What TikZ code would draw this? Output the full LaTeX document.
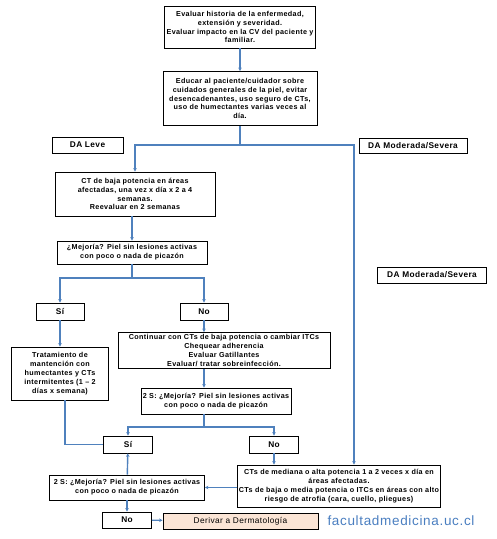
\documentclass[tikz,border=0pt]{standalone}
\usepackage{fontspec}
\setmainfont{Liberation Sans}
\newfontfamily\boxfont{Liberation Sans}[LetterSpace=5]
\usetikzlibrary{arrows.meta}
\definecolor{linkblue}{HTML}{4F81BD}
\definecolor{peach}{HTML}{FBE5D6}
\definecolor{webblue}{HTML}{4A7EC0}

\begin{document}
\begin{tikzpicture}[
    x=1pt,y=-1pt,
    box/.style={draw,thick,fill=white,align=center,inner sep=1pt,
      font=\fontsize{7.2}{8.9}\boxfont\bfseries},
    tag/.style={box,font=\fontsize{8.3}{10}\boxfont\bfseries},
    link/.style={draw=linkblue,line width=1.4pt},
    arrow/.style={link,->,>={Stealth[length=3.5pt,width=3.5pt]},color=linkblue}
  ]
  \useasboundingbox (0,0) rectangle (497,539);
  % top of the chart
  \node[box,minimum width=151pt,minimum height=42pt] (eval) at (240,27)
    {Evaluar historia de la enfermedad,\\ extensión y severidad.\\
     Evaluar impacto en la CV del paciente y\\ familiar.};
  \node[box,minimum width=154pt,minimum height=54pt] (educar) at (240,98.5)
    {Educar al paciente/cuidador sobre\\ cuidados generales de la piel, evitar\\
     desencadenantes, uso seguro de CTs,\\ uso de humectantes varias veces al\\ día.};
  \node[tag,minimum width=71pt,minimum height=16pt] (leve) at (87.5,145) {DA Leve};
  \node[tag,minimum width=108pt,minimum height=15pt] (modsev) at (413,145.5) {DA Moderada/Severa};
  \coordinate (split) at (240,145);
  \coordinate (rtop) at (354,145);
  % mild branch
  \node[box,minimum width=160pt,minimum height=44pt] (ct) at (135,194)
    {CT de baja potencia en áreas\\ afectadas, una vez x día x 2 a 4\\
     semanas.\\ Reevaluar en 2 semanas};
  \node[box,minimum width=150pt,minimum height=23pt] (mej1) at (132,252.5)
    {¿Mejoría? Piel sin lesiones activas\\ con poco o nada de picazón};
  \coordinate (b1) at (132,278);
  \node[tag,minimum width=48pt,minimum height=17pt] (si1) at (60,311.5) {Sí};
  \node[tag,minimum width=48pt,minimum height=17pt] (no1) at (204,311.5) {No};
  \node[tag,minimum width=109pt,minimum height=16pt] (modsev2) at (432,275) {DA Moderada/Severa};
  \node[box,minimum width=97pt,minimum height=53pt] (trat) at (60,373.5)
    {Tratamiento de\\ mantención con\\ humectantes y CTs\\ intermitentes (1 – 2\\ días x semana)};
  \node[box,minimum width=212pt,minimum height=36pt] (cont) at (224,350.5)
    {Continuar con CTs de baja potencia o cambiar ITCs\\ Chequear adherencia\\
     Evaluar Gatillantes\\ Evaluar/ tratar sobreinfección.};
  \node[box,minimum width=150pt,minimum height=26pt] (mej2) at (216,401)
    {2 S: ¿Mejoría? Piel sin lesiones activas\\ con poco o nada de picazón};
  \coordinate (b2) at (204,427);
  \node[tag,minimum width=49pt,minimum height=17pt] (si2) at (128,444.5) {Sí};
  \node[tag,minimum width=49pt,minimum height=17pt] (no2) at (274,444.5) {No};
  % bottom of the chart
  \node[box,minimum width=198pt,minimum height=42pt] (ctmed) at (339,486)
    {CTs de mediana o alta potencia 1 a 2 veces x día en\\ áreas afectadas.\\
     CTs de baja o media potencia o ITCs en áreas con alto\\ riesgo de atrofia (cara, cuello, pliegues)};
  \node[box,minimum width=155pt,minimum height=25pt] (mej3) at (127,487.5)
    {2 S: ¿Mejoría? Piel sin lesiones activas\\ con poco o nada de picazón};
  \node[tag,minimum width=49pt,minimum height=16pt] (no3) at (127,520) {No};
  \node[box,minimum width=155pt,minimum height=16pt,fill=peach,font=\fontsize{8.3}{10}\boxfont] (der) at (240.5,521)
    {Derivar a Dermatología};
  \node[text=webblue,font=\fontsize{13.5}{15}\boxfont,inner sep=0pt] (web) at (401,521) {facultadmedicina.uc.cl};
  % connectors
  \draw[arrow] (eval) -- (educar);
  \draw[link] (educar) -- (split);
  \draw[arrow] (split) -| (ct);
  \draw[arrow] (split) -- (rtop) -- (rtop |- ctmed.north);
  \draw[arrow] (ct.south -| mej1) -- (mej1);
  \draw[link] (mej1) -- (b1);
  \draw[arrow] (b1) -| (si1);
  \draw[arrow] (b1) -| (no1);
  \draw[arrow] (si1) -- (trat);
  \draw[arrow] (no1) -- (no1 |- cont.north);
  \draw[arrow] (cont.south -| no1) -- (mej2.north -| no1);
  \draw[link] (mej2.south -| b2) -- (b2);
  \draw[arrow] (b2) -| (si2);
  \draw[arrow] (b2) -| (no2);
  \draw[link] ([xshift=5pt]trat.south) |- (si2);
  \draw[arrow] (no2) -- (no2 |- ctmed.north);
  \draw[arrow] (ctmed.west |- mej3) -- (mej3);
  \draw[arrow] (mej3) -- (si2);
  \draw[arrow] (mej3) -- (no3);
  \draw[arrow] (no3) -- (der);
\end{tikzpicture}
\end{document}
